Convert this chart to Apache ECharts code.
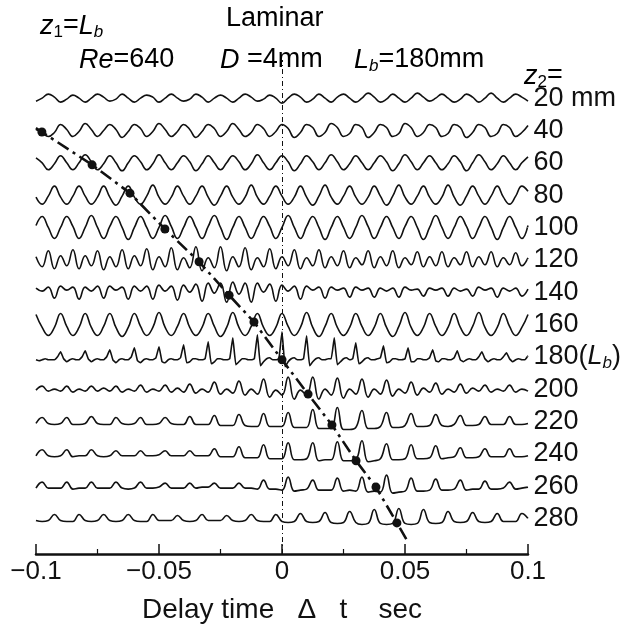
<!DOCTYPE html>
<html>
<head>
<meta charset="utf-8">
<script src="https://cdn.jsdelivr.net/npm/echarts@6/dist/echarts.min.js"></script>
<style>
  html, body { margin: 0; background: #fff; }
  #chart { width: 628px; height: 630px; }
</style>
</head>
<body>
<div id="chart"></div>
<script>
// probe positions z2 (mm), one trace per position
const z2 = [20, 40, 60, 80, 100, 120, 140, 160, 180, 200, 220, 240, 260, 280];
const traceLabels = ['20 mm', '40', '60', '80', '100', '120', '140', '160',
  '{n|180(}{i|L}{si|b}{n|)}', '200', '220', '240', '260', '280'];

// x axis ticks
const tickValues = [-0.1, -0.05, 0, 0.05, 0.1];

// tracked crest on each trace from 40 mm down: delay (s) and signal level there
const crestDelay = [-0.0976, -0.0772, -0.0618, -0.0476, -0.0337, -0.0215, -0.0114,
  0.0, 0.0106, 0.0203, 0.0301, 0.0382, 0.0467];
const crestLevel = [-1.5, -2, 2, -1.5, -2, -3, 2.5, -3, -5, -3.5, -7, -1, -4.5];

// signals, sampled every 2.5 ms from -0.1 s to 0.1 s (180 mm: every 1.25 ms)
const s20 = [-3,0,4,1, -4,-1,3,0, -4,0,4,1, -3,-1,4,0, -4,0,3,1, -4,0,4,0, -3,-1,4,1, -4,0,3,0,
  -4,0,4,1, -3,-1,3,0, -5,0,4,1, -4,-1,4,0, -4,1,4,0, -4,0,5,1, -4,-1,4,0, -4,0,5,1,
  -3,0,4,0, -4,-1,4,1, -4,0,5,0, -4,0,4,1, -3];
const s40 = [1,-2,-6,-2, 6,1,-6,-1, 7,1,-6,0, 6,1,-7,-1, 6,2,-6,-1, 7,1,-6,-1, 6,1,-7,-1, 6,2,-6,-1,
  7,1,-6,-2, 6,2,-6,-1, 6,2,-7,-2, 6,3,-6,-2, 7,3,-6,-3, 6,3,-7,-2, 6,3,-6,-3, 7,3,-6,-2,
  6,3,-6,-3, 6,3,-7,-2, 6,3,-6,-3, 6,3,-6,-2, 5];
const s60 = [5,0,-7,-1, 7,0,-7,0, 8,1,-7,-1, 7,0,-8,0, 7,1,-7,-1, 8,0,-7,0, 7,1,-8,-1, 7,0,-7,0,
  7,1,-7,-1, 8,0,-7,0, 7,1,-8,-1, 7,1,-7,0, 8,1,-7,-1, 7,0,-7,0, 7,1,-8,-1, 8,1,-7,0,
  7,0,-7,-1, 7,1,-8,0, 8,1,-7,-1, 7,0,-7,0, 6];
const s80 = [-2,-9,-1,9, -2,-9,-1,9, -1,-9,-2,9, -2,-10,-1,9, -2,-9,-1,10, -2,-9,-2,9, -1,-9,-1,9, -2,-10,-1,9,
  -2,-9,-2,10, -2,-9,-1,9, -1,-9,-2,9, -2,-10,-1,10, -2,-9,-1,9, -2,-9,-2,9, -1,-10,-1,10, -2,-9,-1,9,
  -2,-9,-2,10, -2,-10,-1,9, -1,-9,-1,9, -2,-9,-1,9, 4];
const s100 = [2,11,0,-11, 0,11,1,-11, 0,12,0,-11, 1,11,0,-12, 0,11,0,-11, 0,12,1,-11, 0,11,0,-11, 1,12,0,-12,
  0,11,0,-11, 0,11,1,-11, 0,12,0,-11, 1,11,0,-12, 0,11,0,-11, 0,12,1,-11, 0,11,0,-11, 1,11,0,-12,
  0,12,0,-11, 0,11,1,-11, 0,11,0,-12, 0,11,0,-11, 2];
const s120 = [3,-7,9,-9, 4,-6,10,-9, 4,-6,9,-10, 3,-7,10,-9, 4,-6,11,-10, 3,-7,12,-10, 2,-8,13,-11, 2,-8,13,-11,
  3,-7,12,-10, 2,-7,11,-9, 3,-6,10,-9, 2,-6,10,-8, 3,-6,9,-8, 2,-5,9,-8, 3,-6,9,-8, 2,-5,8,-7,
  3,-6,8,-7, 2,-5,8,-7, 3,-5,8,-7, 2,-5,7,-6, 2];
const s140 = [4,1,5,-6, 6,2,5,-7, 5,1,6,-6, 6,2,5,-7, 6,1,6,-7, 7,1,6,-8, 7,0,8,-9, 9,-1,9,-10,
  10,-2,9,-10, 9,0,8,-9, 7,1,6,-7, 6,2,5,-6, 5,2,4,-5, 5,2,4,-5, 4,1,4,-5, 5,2,3,-4,
  4,2,4,-4, 4,1,3,-4, 5,2,4,-5, 4,1,4,-4, 3];
const s160 = [10,-3,-11,-3, 11,-2,-11,-3, 11,-3,-11,-2, 11,-3,-12,-3, 11,-2,-11,-3, 12,-3,-11,-2, 11,-3,-11,-3, 11,-2,-12,-3,
  12,-3,-11,-2, 11,-3,-11,-3, 11,-2,-11,-3, 12,-3,-12,-2, 11,-3,-11,-3, 11,-2,-11,-3, 11,-3,-12,-2, 12,-3,-11,-3,
  11,-2,-11,-3, 11,-3,-11,-2, 12,-3,-11,-3, 11,-2,-11,-3, 10];
const s180 = [-3,-4,-3,-2,-3,-3,-3,0,
  5,-2,-5,-3,-2,-3,-3,0,
  6,-2,-5,-3,-2,-3,-3,0,
  7,-3,-6,-3,-2,-3,-3,0,
  9,-4,-6,-3,-2,-3,-3,-1,
  10,-5,-6,-3,-2,-3,-3,-1,
  12,-6,-5,-2,-2,-3,-3,-2,
  15,-7,-5,-2,-2,-3,-3,-2,
  19,-8,-5,-2,-2,-3,-3,-2,
  22,-9,-5,-2,-1,-3,-3,-2,
  25,-10,-5,-2,-1,-3,-3,-2,
  21,-9,-5,-2,-1,-3,-3,-2,-2,
  19,-8,-5,-2,-1,-3,-2,
  14,-7,-5,-2,-1,-3,-3,-2,-1,
  11,-6,-5,-2,-2,-3,-3,-2,
  9,-5,-5,-2,-2,-3,-3,-1,
  7,-4,-5,-2,-2,-3,-3,-1,
  6,-3,-5,-3,-2,-3,-3,0,
  5,-2,-5,-3,-2,-3,-3,0,
  4,-2,-5,-3,-2,-3,-3,1];
const s200 = [-1,3,-2,0, -2,3,-3,0, -2,3,-2,1, -2,3,-3,0, -2,4,-3,0, -2,4,-3,1, -3,5,-4,0, -3,7,-5,0,
  -4,8,-6,0, -5,10,-8,-1, -6,12,-10,-1, -6,12,-10,0, -6,11,-9,0, -5,10,-8,0, -5,9,-7,0, -4,7,-6,1,
  -3,6,-5,0, -3,5,-4,1, -2,4,-3,0, -2,4,-3,0, -2];
const s220 = [-2,4,-2,-3, -2,4,-3,-3, -2,5,-2,-3, -3,4,-2,-3, -2,4,-3,-3, -2,4,-2,-3, -3,5,-3,-3, -3,6,-4,-4,
  -4,7,-4,-5, -5,8,-5,-5, -5,9,-6,-6, -6,12,-7,-7, -7,14,-8,-8, -6,11,-7,-7, -5,9,-6,-6, -4,8,-5,-5,
  -4,7,-4,-5, -3,6,-4,-4, -3,5,-3,-3, -3,5,-3,-3, -2];
const s240 = [-2,4,-2,-3, -2,4,-3,-2, -2,4,-2,-3, -2,3,-2,-2, -2,3,-2,-2, -1,3,-2,-2, -2,3,-2,-2, -2,5,-3,-3,
  -3,7,-4,-4, -4,9,-5,-5, -5,11,-6,-6, -5,11,-7,-6, -6,12,-7,-7, -6,13,-8,-7, -5,10,-6,-6, -5,9,-5,-5,
  -4,8,-5,-4, -3,6,-4,-4, -3,5,-3,-3, -3,5,-3,-3, -2];
const s260 = [-2,4,-2,-2, -2,4,-3,-2, -2,4,-2,-2, -2,4,-2,-3, -2,4,-2,-2, -1,3,-2,-2, -2,3,-2,-1, -1,3,-2,-2,
  -2,3,-2,-2, -3,6,-3,-3, -4,9,-5,-4, -3,6,-4,-4, -4,8,-5,-4, -5,9,-6,-5, -6,11,-7,-6, -5,8,-5,-5,
  -4,7,-4,-4, -3,6,-4,-3, -3,5,-3,-3, -2,4,-3,-2, -1];
const s280 = [-2,-3,-2,4, -2,-3,-3,4, -2,-3,-2,4, -2,-3,-2,4, -2,-3,-3,4, -2,-2,-2,3, -2,-3,-2,4, -2,-2,-2,3,
  -2,-3,-2,4, -2,-3,-3,4, -3,-4,-3,5, -3,-4,-3,6, -4,-5,-4,7, -4,-6,-5,9, -5,-6,-5,10, -5,-6,-5,9,
  -4,-5,-4,7, -3,-4,-3,6, -3,-4,-3,5, -3,-3,-3,5, 0];

const traces = [s20, s40, s60, s80, s100, s120, s140, s160, s180, s200, s220, s240, s260, s280];

const T0 = -0.1, T1 = 0.1;
const GAIN = 1 / 32.3;          // signal units per trace spacing
const FONT = '"Liberation Sans", Arial, Helvetica, sans-serif';
const INK = '#111';

const rich = (size) => {
  const sub = Math.round(size * 0.64);
  return {
    n: { fontSize: size, lineHeight: size + 3, fontFamily: FONT, color: INK },
    i: { fontSize: size, lineHeight: size + 3, fontFamily: FONT, color: INK, fontStyle: 'italic' },
    s: { fontSize: sub, fontFamily: FONT, color: INK, verticalAlign: 'bottom', lineHeight: 8 },
    si: { fontSize: sub, fontFamily: FONT, color: INK, fontStyle: 'italic', verticalAlign: 'bottom', lineHeight: 8 }
  };
};

const chart = echarts.init(document.getElementById('chart'), null, { renderer: 'canvas' });

const traceSeries = traces.map((vals, k) => ({
  type: 'line',
  data: vals.map((v, i) => [T0 + i * (T1 - T0) / (vals.length - 1), -k + v * GAIN]),
  showSymbol: false,
  smooth: k === 8 ? 0.1 : 0.45,
  lineStyle: { color: INK, width: 1.6 },
  silent: true,
  z: 2
}));

// crest points sit on traces 40 mm .. 280 mm
const crestPts = crestDelay.map((t, j) => [t, -(j + 1) + crestLevel[j] * GAIN]);
// let the guide line run a little past the first and last crest
const ext = (a, b, f) => [b[0] + (b[0] - a[0]) * f, b[1] + (b[1] - a[1]) * f];
const n = crestPts.length;
const guide = [ext(crestPts[1], crestPts[0], 0.12)].concat(crestPts, [ext(crestPts[n - 2], crestPts[n - 1], 0.45)]);

const option = {
  animation: false,
  backgroundColor: '#fff',
  grid: { left: 36, right: 100, top: 60, bottom: 76 },
  xAxis: {
    type: 'value',
    min: T0, max: T1, interval: 0.05,
    axisLine: { onZero: false, lineStyle: { color: INK, width: 2.5 } },
    axisTick: { inside: true, length: 10, lineStyle: { color: INK, width: 1.5 } },
    minorTick: { show: true, splitNumber: 2, length: 5, lineStyle: { color: INK, width: 1.2 } },
    splitLine: { show: false },
    axisLabel: {
      margin: 5, fontSize: 26, fontFamily: FONT, color: INK,
      formatter: (v) => {
        const t = tickValues.reduce((a, b) => Math.abs(b - v) < Math.abs(a - v) ? b : a);
        return (t < 0 ? '\u2212' : '') + Math.abs(t);
      }
    },
    name: 'Delay time   \u0394   t    sec',
    nameLocation: 'middle',
    nameGap: 42,
    nameTextStyle: { fontSize: 28, fontFamily: FONT, color: INK }
  },
  yAxis: { type: 'value', min: -14.1, max: 1.18, show: false },
  series: traceSeries.concat([
    {
      type: 'line',
      data: [],
      silent: true,
      markLine: {
        symbol: 'none',
        silent: true,
        label: { show: false },
        lineStyle: { color: INK, width: 1, type: [5, 3, 1, 3] },
        data: [{ xAxis: 0 }]
      }
    },
    {
      type: 'line',
      data: guide,
      showSymbol: false,
      silent: true,
      lineStyle: { color: INK, width: 2.6, type: [13, 5, 3, 5] },
      z: 3
    },
    {
      type: 'scatter',
      data: crestPts,
      symbol: 'circle',
      symbolSize: 9,
      itemStyle: { color: INK, opacity: 1 },
      silent: true,
      z: 4
    },
    {
      type: 'scatter',
      data: z2.map((z, k) => [T1, -k]),
      symbolSize: 1,
      itemStyle: { color: '#fff', opacity: 1 },
      silent: true,
      label: {
        show: true,
        position: 'right',
        distance: 5,
        color: INK,
        formatter: (p) => traceLabels[p.dataIndex].indexOf('{') >= 0 ? traceLabels[p.dataIndex] : '{n|' + traceLabels[p.dataIndex] + '}',
        rich: rich(27)
      }
    }
  ]),
  graphic: [
    { type: 'text', x: 40, y: 26, style: { text: '{i|z}{s|1}{n|=}{i|L}{si|b}', rich: rich(27), verticalAlign: 'middle' } },
    { type: 'text', x: 226, y: 19, style: { text: '{n|Laminar}', rich: rich(27), verticalAlign: 'middle' } },
    { type: 'text', x: 79, y: 60, style: { text: '{i|Re}{n|=640}', rich: rich(27), verticalAlign: 'middle' } },
    { type: 'text', x: 220, y: 60, style: { text: '{i|D}{n| =4mm}', rich: rich(27), verticalAlign: 'middle' } },
    { type: 'text', x: 354, y: 60, style: { text: '{i|L}{si|b}{n|=180mm}', rich: rich(27), verticalAlign: 'middle' } },
    { type: 'text', x: 524, y: 76, style: { text: '{i|z}{s|2}{n|=}', rich: rich(27), verticalAlign: 'middle' } }
  ]
};

chart.setOption(option);
</script>
</body>
</html>
